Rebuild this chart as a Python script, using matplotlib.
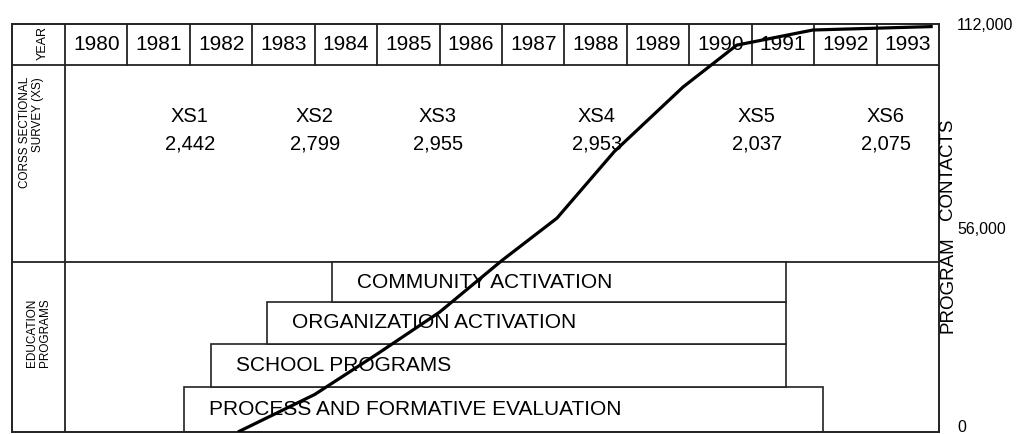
import matplotlib
matplotlib.use("Agg")
import matplotlib.pyplot as plt
from matplotlib.patches import Rectangle

plt.rcParams['font.family'] = ['Liberation Sans', 'DejaVu Sans']

# timeline
years = list(range(1980, 1994))

# cross sectional surveys
xs_names = ["XS1", "XS2", "XS3", "XS4", "XS5", "XS6"]
xs_sizes = [2442, 2799, 2955, 2953, 2037, 2075]
xs_years = [1982.0, 1984.0, 1985.97, 1988.52, 1991.08, 1993.15]

# education programs (start / end on the year scale)
prog_names = ["PROCESS AND FORMATIVE EVALUATION", "SCHOOL PROGRAMS",
              "ORGANIZATION ACTIVATION", "COMMUNITY ACTIVATION"]
prog_start = [1981.91, 1982.34, 1983.24, 1984.28]
prog_end = [1992.14, 1991.55, 1991.55, 1991.55]

# cumulative program contacts
contact_years = [1982.77, 1984.0, 1985.0, 1986.0, 1987.0, 1987.88,
                 1988.8, 1989.9, 1990.76, 1991.98, 1993.9]
contacts = [0, 10300, 21400, 32900, 47100, 58700,
            77000, 94700, 106200, 110350, 111300]

W, H = 1016, 434
fig = plt.figure(figsize=(W / 100, H / 100), dpi=100)
left, right, top, bottom = 12, 939, 24, 432
ax = fig.add_axes([left / W, 1 - bottom / H, (right - left) / W, (bottom - top) / H])

ppy = (right - 65) / 14.0
x_left = 1980 - (65 - left) / ppy
ax.set_xlim(x_left, 1994)
ax.set_ylim(0, 1)
ax.set_xticks([])
ax.set_yticks([])
lc = "#222222"
for sp in ax.spines.values():
    sp.set_color(lc)
    sp.set_linewidth(1.4)


def fy(py):
    # pixel row -> layout fraction
    return (bottom - py) / (bottom - top)


row_year = fy(65)
row_div = fy(262)

# row separators
ax.plot([x_left, 1994], [row_year, row_year], color=lc, lw=1.3)
ax.plot([x_left, 1994], [row_div, row_div], color=lc, lw=1.3)
ax.plot([1980, 1980], [0, 1], color=lc, lw=1.3)

# year cells
for y in years:
    if y > 1980:
        ax.plot([y, y], [row_year, 1], color=lc, lw=1.3)
    ax.text(y + 0.5, (row_year + 1) / 2, str(y), ha="center", va="center", fontsize=15)

# left headers
ax.text(1980 - 22 / ppy, fy(43), "YEAR", rotation=90, ha="center", va="center", fontsize=9)
ax.text(x_left + 19.5 / ppy, fy(77), "CORSS SECTIONAL\nSURVEY (XS)", rotation=90,
        ha="center", va="top", multialignment="right", fontsize=8.5, linespacing=1.05)
ax.text(x_left + 26.5 / ppy, fy(367), "EDUCATION\nPROGRAMS", rotation=90,
        ha="center", va="bottom", multialignment="left", fontsize=8.5, linespacing=1.05)

# surveys
for name, n, yr in zip(xs_names, xs_sizes, xs_years):
    ax.text(yr, fy(117), name, ha="center", va="center", fontsize=14.5)
    ax.text(yr, fy(144), f"{n:,}", ha="center", va="center", fontsize=14.5)

# program boxes
edges = [fy(432), fy(387), fy(344), fy(302), row_div]
for i, (name, s, e) in enumerate(zip(prog_names, prog_start, prog_end)):
    y0, y1 = edges[i], edges[i + 1]
    ax.add_patch(Rectangle((s, y0), e - s, y1 - y0, facecolor="white",
                           edgecolor=lc, lw=1.2, zorder=2))
    ax.text(s + 25 / ppy, (y0 + y1) / 2, name, ha="left", va="center",
            fontsize=15, zorder=3)

# contacts line on right axis
ax2 = ax.twinx()
ax2.set_ylim(0, 112000)
ax2.plot(contact_years, contacts, color="black", lw=2.3,
         solid_joinstyle="round", solid_capstyle="butt", zorder=5)
ax2.set_yticks([0, 56000, 112000])
ax2.set_yticklabels(["0", "56,000", "112,000"], fontsize=11.5)
ax2.tick_params(axis="y", length=0, pad=13)
ax2.get_yticklabels()[0].set_va("baseline")
for sp in ax2.spines.values():
    sp.set_visible(False)

ax2.text(1.0097, fy(285), "PROGRAM", transform=ax2.transAxes, rotation=90,
         ha="center", va="center", fontsize=13.5)
ax2.text(1.0097, fy(169), "CONTACTS", transform=ax2.transAxes, rotation=90,
         ha="center", va="center", fontsize=13.5)

fig.savefig("out.png", dpi=100, facecolor="white")
